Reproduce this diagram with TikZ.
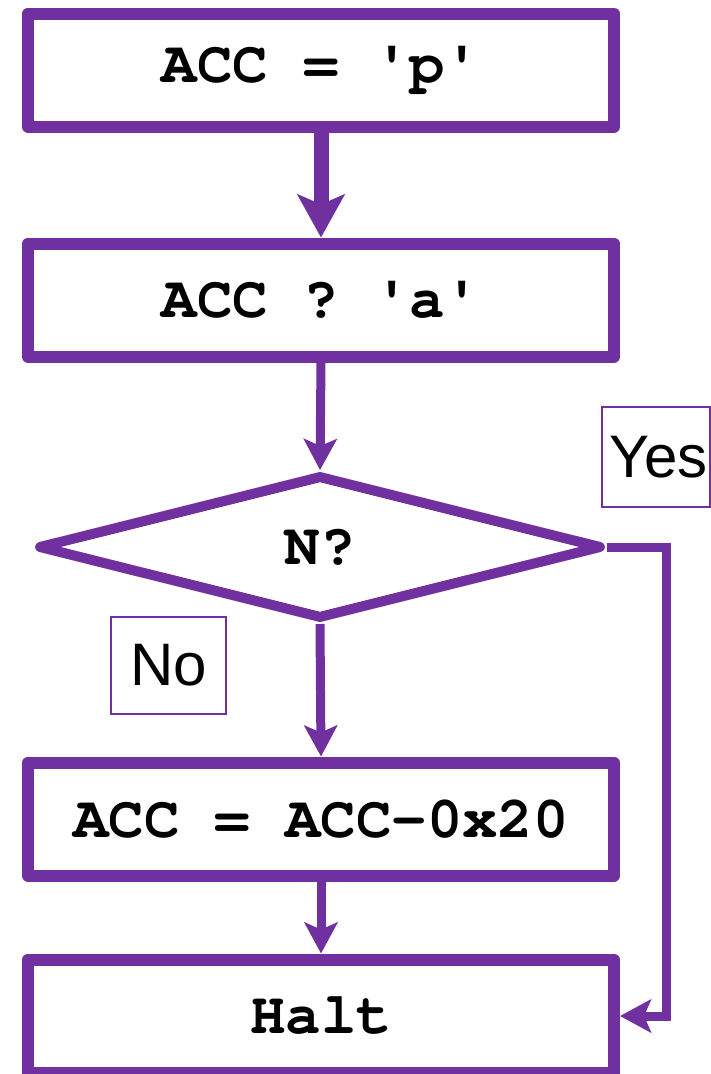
\documentclass[tikz,border=0pt]{standalone}
\usepackage{fontspec}
\setmainfont{Liberation Sans}
\setmonofont{TeX Gyre Cursor}
\usetikzlibrary{shapes.geometric,arrows.meta}
\definecolor{flowpurple}{RGB}{112,48,160}
\tikzset{
  stepbox/.style={draw=flowpurple, line width=12pt, line join=round,
    minimum width=586pt, minimum height=113pt, inner sep=0pt,
    font=\ttfamily\bfseries\fontsize{59}{60}\selectfont},
  decision/.style={draw=flowpurple, diamond, line width=10pt, line join=round,
    minimum width=564pt, minimum height=144pt, inner sep=0pt,
    font=\ttfamily\bfseries\fontsize{59}{60}\selectfont},
  tag/.style={draw=flowpurple, line width=1.5pt, inner sep=0pt,
    font=\fontsize{60}{62}\selectfont},
  thickflow/.style={draw=flowpurple, line width=15pt,
    -{Stealth[length=43pt,width=47pt,inset=10pt]}},
  thinflow/.style={draw=flowpurple, line width=9pt,
    -{Stealth[length=31pt,width=33pt,inset=7pt]}},
}
\begin{document}
\begin{tikzpicture}[x=1pt,y=-1pt]
\useasboundingbox (0,0) rectangle (711,1074);
\clip (0,0) rectangle (711,1074);

% process boxes and the decision
\node[stepbox] (load) at (321,70) {ACC = 'p'};
\node[stepbox] (cmp) at (321,300) {ACC ? 'a'};
\node[decision] (neg) at (320,547) {N?};
\node[stepbox] (sub) at (321,819) {ACC = ACC-0x20};
\node[stepbox] (halt) at (321,1016) {Halt};

% branch labels
\node[tag, minimum width=108pt, minimum height=100pt] (yes) at (656,457) {\hspace*{5pt}Yes};
\node[tag, minimum width=115pt, minimum height=97pt] (no) at (168.5,665.5) {No};

% connectors
\draw[thickflow] (load.south) -- (cmp.north);
\draw[thinflow] (cmp.south) -- (neg.north);
\draw[thinflow] (neg.south) -- (sub.north);
\draw[thinflow] (sub.south) -- (halt.north);
\draw[thinflow, line join=miter] (neg.east) -- ++(59,0) |- (halt.east);
\end{tikzpicture}
\end{document}
